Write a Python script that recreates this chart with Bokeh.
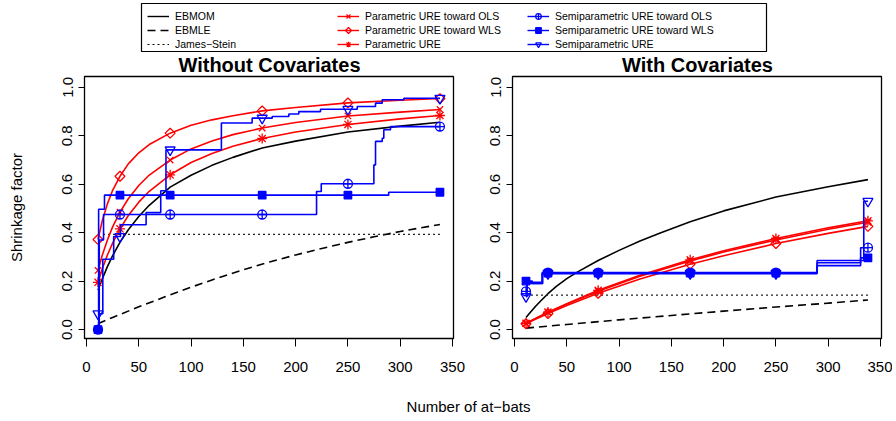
import numpy as np
from bokeh.plotting import figure
from bokeh.layouts import column, row
from bokeh.models import Range1d, Legend, LegendItem, Label, FixedTicker
from bokeh.embed import file_html
from bokeh.resources import INLINE

FONT = "Liberation Sans"
RED = "#FF0000"
BLUE = "#0000FF"

# ---------------- data ----------------
x_ticks = [0, 50, 100, 150, 200, 250, 300, 350]
y_ticks = [0.0, 0.2, 0.4, 0.6, 0.8, 1.0]
y_tick_labels = ["0.0", "0.2", "0.4", "0.6", "0.8", "1.0"]
marker_n = [11, 32, 80, 168, 250, 338]

n_grid = [11, 15, 20, 25, 32, 40, 50, 60, 80, 100, 120, 140, 168, 200, 250, 300, 338]

# Without covariates
wo_ebmom = [0.162, 0.208, 0.26, 0.305, 0.36, 0.412, 0.467, 0.513, 0.588, 0.637, 0.678, 0.711, 0.75, 0.778, 0.816, 0.84, 0.856]
wo_par_ols = [0.244, 0.306, 0.37, 0.424, 0.485, 0.54, 0.595, 0.638, 0.70, 0.746, 0.779, 0.805, 0.832, 0.855, 0.882, 0.898, 0.909]
wo_par_wls = [0.372, 0.448, 0.519, 0.575, 0.633, 0.684, 0.73, 0.764, 0.811, 0.844, 0.866, 0.883, 0.903, 0.917, 0.936, 0.947, 0.954]
wo_par_ure = [0.195, 0.25, 0.308, 0.357, 0.416, 0.471, 0.526, 0.571, 0.639, 0.69, 0.727, 0.757, 0.789, 0.816, 0.847, 0.87, 0.884]
wo_ebmle_n = [11, 25, 50, 75, 100, 125, 150, 175, 200, 225, 250, 275, 300, 338]
wo_ebmle = [0.024, 0.05, 0.094, 0.135, 0.175, 0.212, 0.247, 0.279, 0.308, 0.335, 0.36, 0.383, 0.405, 0.434]
wo_js = 0.393
wo_semi_ols_n = [11, 12.2, 16.3, 220, 224.5, 274.8, 276.4, 282.8, 284.3, 290.7, 338]
wo_semi_ols = [0.0, 0.37, 0.475, 0.57, 0.602, 0.68, 0.777, 0.79, 0.825, 0.838, 0.838]
wo_semi_wls_n = [11, 11.6, 17.2, 289, 338]
wo_semi_wls = [0.0, 0.497, 0.555, 0.567, 0.567]
wo_semi_ure_n = [11, 15.6, 26, 32.5, 57, 71, 76, 129, 158.4, 177.6, 193.5, 203, 223.8, 258.9, 276.4, 282.8, 303.5, 338]
wo_semi_ure = [0.065, 0.29, 0.384, 0.433, 0.483, 0.573, 0.742, 0.853, 0.873, 0.88, 0.89, 0.90, 0.91, 0.921, 0.935, 0.949, 0.955, 0.955]

# With covariates
wc_ebmom = [0.05, 0.07, 0.095, 0.118, 0.148, 0.178, 0.21, 0.237, 0.285, 0.327, 0.366, 0.40, 0.445, 0.49, 0.547, 0.59, 0.619]
wc_par_n = [11, 20, 32, 50, 80, 120, 168, 200, 250, 300, 338]
wc_par_ols = [0.025, 0.045, 0.07, 0.105, 0.158, 0.22, 0.283, 0.32, 0.37, 0.414, 0.443]
wc_par_wls = [0.024, 0.042, 0.066, 0.099, 0.15, 0.209, 0.27, 0.305, 0.355, 0.397, 0.426]
wc_par_ure = [0.026, 0.046, 0.072, 0.107, 0.162, 0.224, 0.288, 0.325, 0.376, 0.42, 0.449]
wc_ebmle_n = [11, 50, 100, 150, 200, 250, 300, 338]
wc_ebmle = [0.006, 0.021, 0.040, 0.058, 0.076, 0.093, 0.109, 0.122]
wc_js = 0.142
wc_semi_ols_n = [11, 12, 26.5, 289.4, 331, 338]
wc_semi_ols = [0.158, 0.195, 0.235, 0.276, 0.338, 0.338]
wc_semi_wls_n = [11, 17, 26.5, 289.4, 331, 338]
wc_semi_wls = [0.2, 0.19, 0.233, 0.264, 0.296, 0.296]
wc_semi_ure_n = [11, 12, 27, 289.4, 334, 338]
wc_semi_ure = [0.136, 0.19, 0.231, 0.285, 0.53, 0.53]

# ---------------- styles ----------------
LW = 1.6
styles = {
    "ebmom": dict(color="black", dash="solid", marker=None),
    "ebmle": dict(color="black", dash="8 5", marker=None),
    "js": dict(color="black", dash="2 3", marker=None),
    "par_ols": dict(color=RED, dash="solid", marker=("x", 9, False, 0.0)),
    "par_wls": dict(color=RED, dash="solid", marker=("square", 7, False, np.pi / 4)),
    "par_ure": dict(color=RED, dash="solid", marker=("asterisk", 10, False, 0.0)),
    "semi_ols": dict(color=BLUE, dash="solid", marker=("circle_cross", 9, False, 0.0)),
    "semi_wls": dict(color=BLUE, dash="solid", marker=("square", 7.5, True, 0.0)),
    "semi_ure": dict(color=BLUE, dash="solid", marker=("inverted_triangle", 10, False, 0.0)),
}


def scatter_marks(p, xs, ys, key):
    m, s, filled, ang = styles[key]["marker"]
    c = styles[key]["color"]
    return p.scatter(xs, ys, marker=m, size=s, angle=ang,
                     line_color=c, line_width=1.3,
                     fill_color=c if filled else None)


def step_at(xs, ys, q):
    xs = np.asarray(xs)
    ys = np.asarray(ys)
    idx = np.searchsorted(xs, q, side="right") - 1
    return ys[np.clip(idx, 0, len(ys) - 1)]


def make_panel(width, mbl, mbr, show_ylabel):
    p = figure(width=width, height=303, title=None, x_range=Range1d(-1.91, 350.96),
               y_range=Range1d(-0.037, 1.045), output_backend="svg",
               toolbar_location=None, min_border_left=mbl, min_border_right=mbr,
               min_border_top=1, min_border_bottom=40)
    p.grid.visible = False
    p.outline_line_color = "black"
    p.outline_line_width = 1.3
    p.background_fill_color = "white"
    p.border_fill_color = "white"
    for ax in (p.xaxis[0], p.yaxis[0]):
        ax.axis_line_color = "black"
        ax.major_tick_line_color = "black"
        ax.minor_tick_line_color = None
        ax.major_tick_in = 0
        ax.major_label_text_font = FONT
        ax.major_label_text_font_size = "15px"
        ax.major_label_text_color = "black"
    p.xaxis.ticker = FixedTicker(ticks=x_ticks)
    p.xaxis.major_tick_out = 8
    p.xaxis.major_label_standoff = 15
    p.yaxis.ticker = FixedTicker(ticks=y_ticks)
    p.yaxis.major_label_overrides = {t: l for t, l in zip(y_ticks, y_tick_labels)}
    p.yaxis.major_label_orientation = "parallel"
    p.yaxis.major_tick_out = 6
    p.yaxis.major_label_standoff = 6
    if show_ylabel:
        p.yaxis.axis_label = "Shrinkage factor"
        p.yaxis.axis_label_text_font = FONT
        p.yaxis.axis_label_text_font_size = "15px"
        p.yaxis.axis_label_text_font_style = "normal"
        p.yaxis.axis_label_text_color = "black"
        p.yaxis.axis_label_standoff = 35
    return p


def draw_panel(p, d):
    p.line(n_grid, d["ebmom"], line_color="black", line_width=LW)
    p.line(d["ebmle_n"], d["ebmle"], line_color="black", line_width=LW, line_dash=styles["ebmle"]["dash"])
    p.line([n_grid[0], n_grid[-1]], [d["js"], d["js"]], line_color="#222222", line_width=1.3,
           line_dash=styles["js"]["dash"])
    for key in ("par_ols", "par_wls", "par_ure"):
        xs, ys = d[key]
        p.line(xs, ys, line_color=RED, line_width=LW)
        scatter_marks(p, marker_n, np.interp(marker_n, xs, ys), key)
    for key in ("semi_ols", "semi_wls", "semi_ure"):
        xs, ys = d[key]
        p.step(xs, ys, mode="after", line_color=BLUE, line_width=LW)
        scatter_marks(p, marker_n, step_at(xs, ys, marker_n), key)


left = make_panel(482, 84, 29, True)
draw_panel(left, {
    "ebmom": wo_ebmom, "ebmle_n": wo_ebmle_n, "ebmle": wo_ebmle, "js": wo_js,
    "par_ols": (n_grid, wo_par_ols), "par_wls": (n_grid, wo_par_wls), "par_ure": (n_grid, wo_par_ure),
    "semi_ols": (wo_semi_ols_n, wo_semi_ols), "semi_wls": (wo_semi_wls_n, wo_semi_wls),
    "semi_ure": (wo_semi_ure_n, wo_semi_ure),
})

right = make_panel(410, 30, 11, False)
draw_panel(right, {
    "ebmom": wc_ebmom, "ebmle_n": wc_ebmle_n, "ebmle": wc_ebmle, "js": wc_js,
    "par_ols": (wc_par_n, wc_par_ols), "par_wls": (wc_par_n, wc_par_wls), "par_ure": (wc_par_n, wc_par_ure),
    "semi_ols": (wc_semi_ols_n, wc_semi_ols), "semi_wls": (wc_semi_wls_n, wc_semi_wls),
    "semi_ure": (wc_semi_ure_n, wc_semi_ure),
})

# ---------------- top strip: legend box + panel titles (pixel coordinates) ----------------
TOP_H = 75
top = figure(width=892, height=TOP_H, title=None, x_range=Range1d(0, 892), y_range=Range1d(0, TOP_H),
             output_backend="svg", toolbar_location=None,
             x_axis_location=None, y_axis_location=None,
             min_border_left=0, min_border_right=0, min_border_top=0, min_border_bottom=0)
top.grid.visible = False
top.outline_line_color = None
top.quad(left=[141], right=[766], top=[TOP_H - 3], bottom=[TOP_H - 51],
         fill_color=None, line_color="black", line_width=1.2)

for tx, ttl in ((269, "Without Covariates"), (697, "With Covariates")):
    top.add_layout(Label(x=tx, y=0, text=ttl, text_align="center",
                         text_baseline="bottom", text_font=FONT, text_font_size="20px",
                         text_font_style="bold", text_color="black"))

legend_cols = [
    [("EBMOM", "ebmom"), ("EBMLE", "ebmle"), ("James\u2212Stein", "js")],
    [("Parametric URE toward OLS", "par_ols"), ("Parametric URE toward WLS", "par_wls"), ("Parametric URE", "par_ure")],
    [("Semiparametric URE toward OLS", "semi_ols"), ("Semiparametric URE toward WLS", "semi_wls"), ("Semiparametric URE", "semi_ure")],
]
legend_x = [147, 337, 527]
GW, GH = 22, 14
off = [-50]  # swatch renderers sit outside the visible strip; only their legend glyphs show

for col, lx in zip(legend_cols, legend_x):
    items = []
    for r_i, (label, key) in enumerate(col):
        st = styles[key]
        rs = [top.line(off, off, line_color=st["color"], line_width=1.4 if key != "js" else 1.2,
                       line_dash=st["dash"])]
        if st["marker"] is not None:
            m, s, filled, ang = st["marker"]
            if ang:
                # rotated marker: legend glyphs ignore angle, so draw the swatch marker directly
                cy = (TOP_H - 51) + GH * (len(col) - r_i) - GH / 2
                top.scatter([lx + GW / 2], [cy], marker=m, size=4.2, angle=ang,
                            line_color=st["color"], line_width=1.2, fill_color=None)
            else:
                rs.append(top.scatter(off, off, marker=m, size=s, angle=ang, line_color=st["color"],
                                      line_width=1.2, fill_color=st["color"] if filled else None))
        items.append(LegendItem(label=label, renderers=rs))
    leg = Legend(items=items, location=(lx, TOP_H - 51), orientation="vertical",
                 border_line_color=None, background_fill_alpha=0, padding=0, margin=0,
                 spacing=0, glyph_width=GW, glyph_height=GH, label_height=GH,
                 label_standoff=6, label_text_font=FONT, label_text_font_size="10.5px",
                 label_text_color="black")
    top.add_layout(leg)

# ---------------- shared x label ----------------
bottom = figure(width=892, height=42, title=None, x_range=Range1d(0, 892), y_range=Range1d(0, 42),
                output_backend="svg", toolbar_location=None,
                x_axis_location=None, y_axis_location=None,
                min_border_left=0, min_border_right=0, min_border_top=0, min_border_bottom=0)
bottom.grid.visible = False
bottom.outline_line_color = None
bottom.add_layout(Label(x=468, y=14, text="Number of at\u2212bats", text_align="center",
                        text_baseline="middle", text_font=FONT, text_font_size="15px",
                        text_color="black"))

layout = column(top, row(left, right), bottom)
open("out.html", "w").write(file_html(layout, INLINE))
